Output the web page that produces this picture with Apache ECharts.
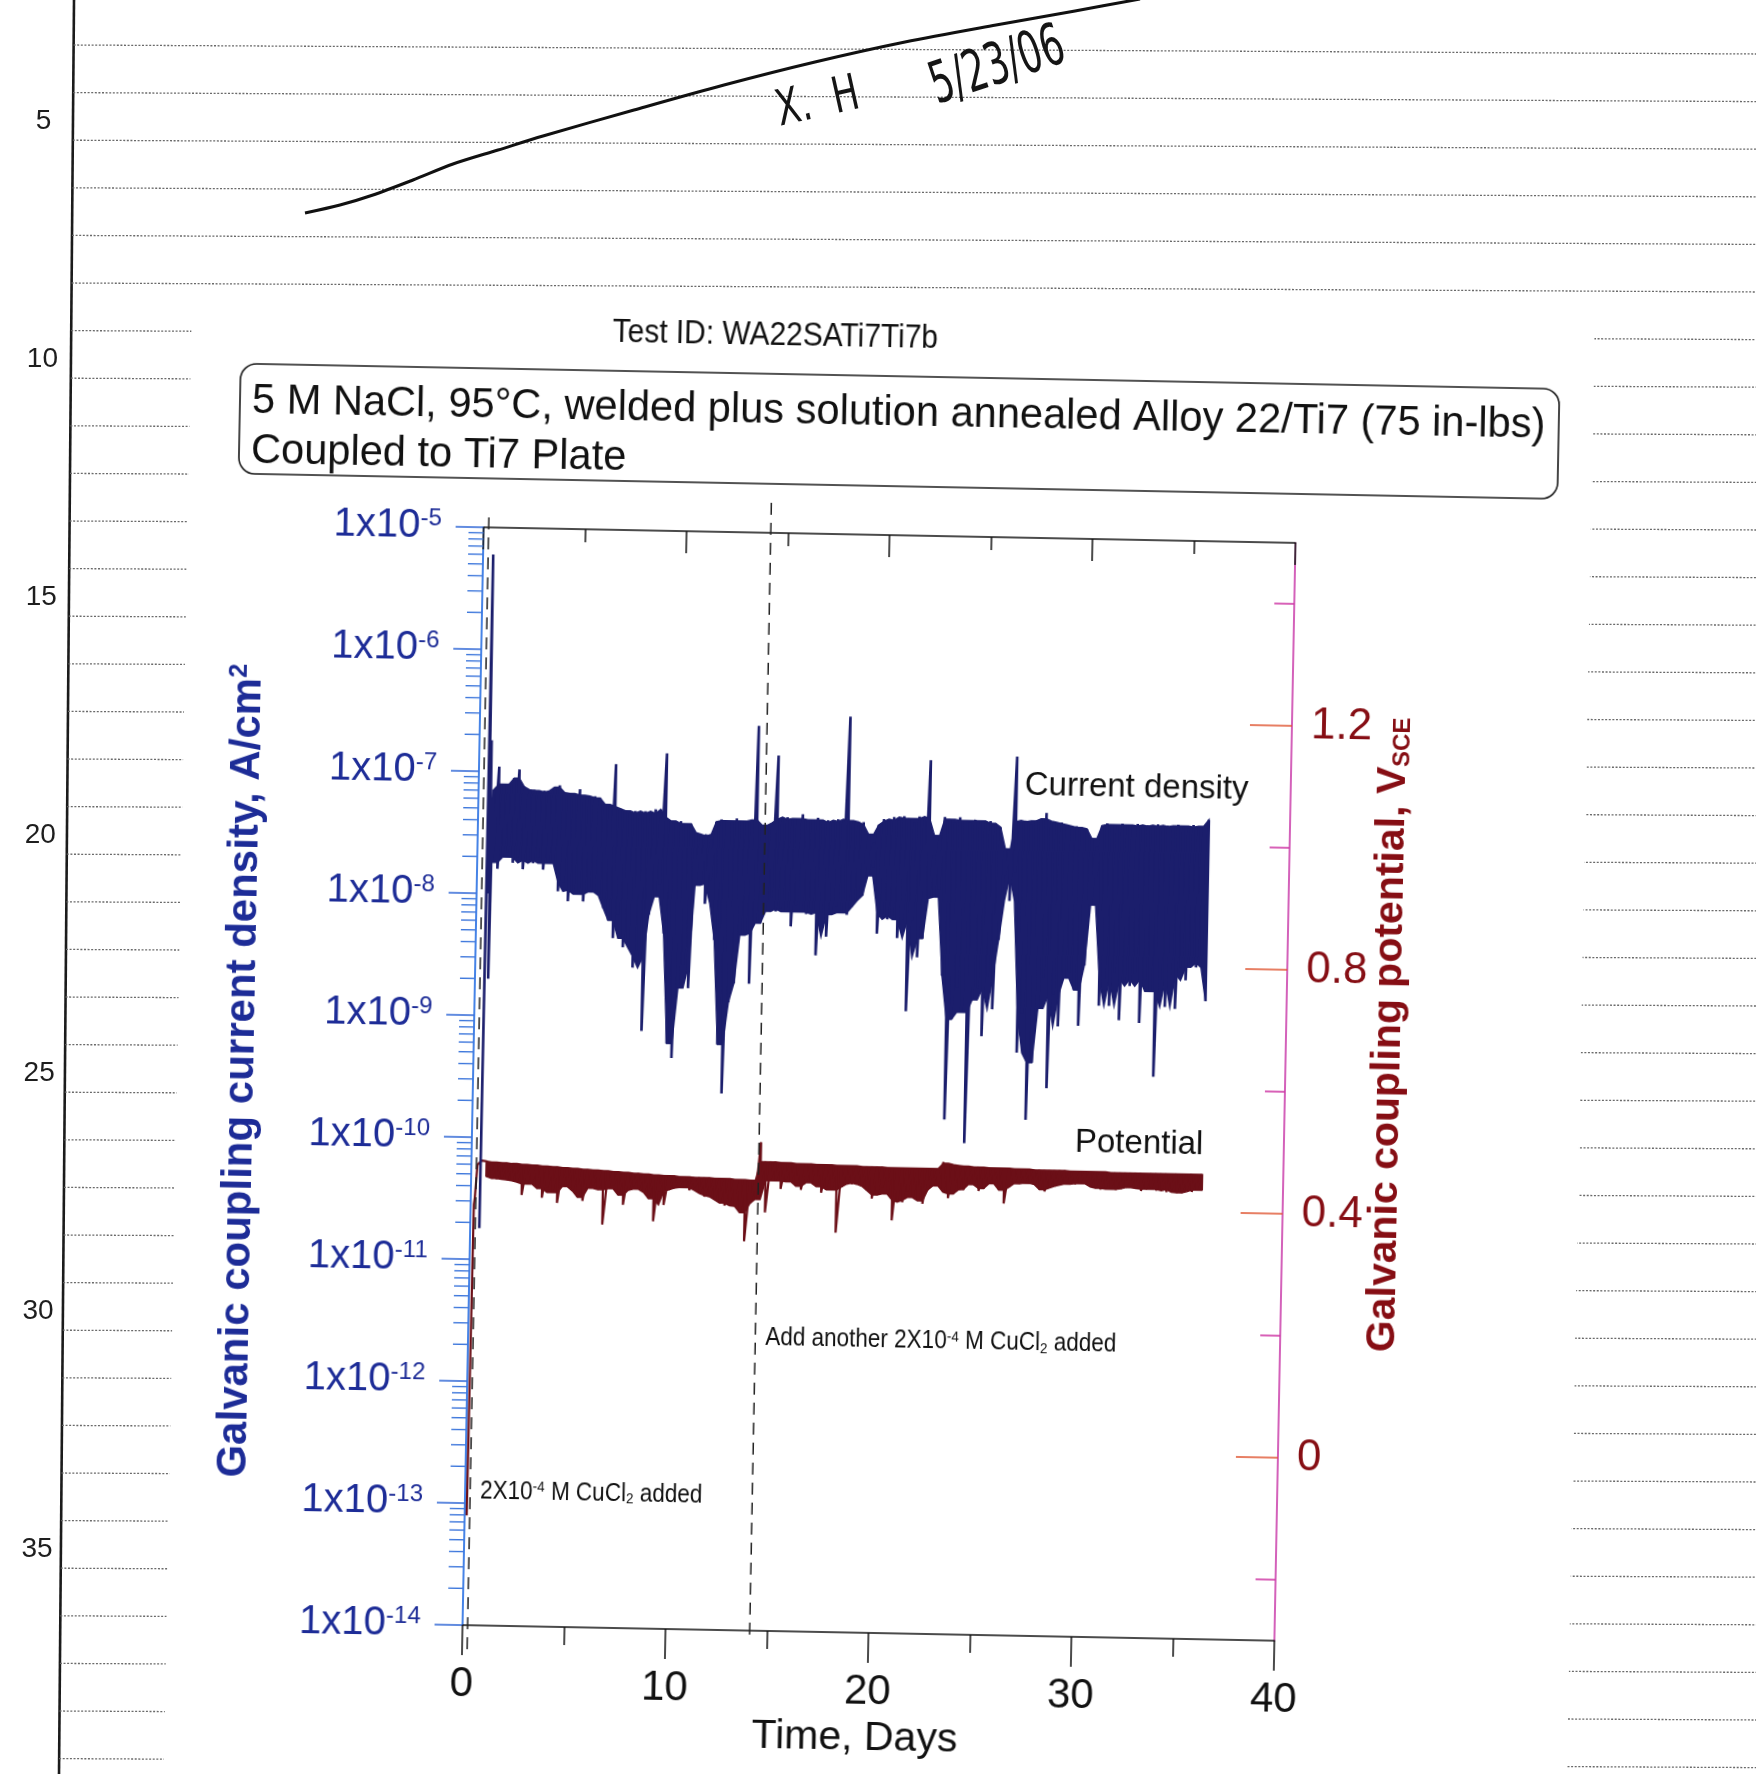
<!DOCTYPE html>
<html><head><meta charset="utf-8">
<script src="https://cdn.jsdelivr.net/npm/echarts@6.0.0/dist/echarts.min.js"></script>
<style>
html,body{margin:0;padding:0;background:#fff;overflow:hidden;}
#wrap{position:relative;width:1756px;height:1774px;overflow:hidden;background:#fff;}
#notebook{position:absolute;left:0;top:0;width:1756px;height:1774px;}
#chart{position:absolute;left:0;top:0;width:1756px;height:1900px;transform-origin:879px 1084px;transform:rotate(1.1deg);}
</style></head><body>
<div id="wrap"><div id="notebook"></div><div id="chart"></div></div>
<script>
// ---------------- DATA ----------------
// Sampling times (days) of the noisy bands
const days = [0.75,
 1,1.25,1.5,1.75, 2,2.25,2.5,2.75, 3,3.25,3.5,3.75, 4,4.25,4.5,4.75, 5,5.25,5.5,5.75,
 6,6.25,6.5,6.75, 7,7.25,7.5,7.75, 8,8.25,8.5,8.75, 9,9.25,9.5,9.75, 10,10.25,10.5,10.75,
 11,11.25,11.5,11.75, 12,12.25,12.5,12.75, 13,13.25,13.5,13.75, 14,14.25,14.5,14.75, 15,15.25,15.5,15.75,
 16,16.25,16.5,16.75, 17,17.25,17.5,17.75, 18,18.25,18.5,18.75, 19,19.25,19.5,19.75, 20,20.25,20.5,20.75,
 21,21.25,21.5,21.75, 22,22.25,22.5,22.75, 23,23.25,23.5,23.75, 24,24.25,24.5,24.75, 25,25.25,25.5,25.75,
 26,26.25,26.5,26.75, 27,27.25,27.5,27.75, 28,28.25,28.5,28.75, 29,29.25,29.5,29.75, 30,30.25,30.5,30.75,
 31,31.25,31.5,31.75, 32,32.25,32.5,32.75, 33,33.25,33.5,33.75, 34,34.25,34.5,34.75, 35,35.25,35.5,35.75,
 36];

// Galvanic coupling current density (A/cm2): upper and lower edge of the noisy trace
const currentHigh = [7.1e-8,
 1.1e-7,7.9e-8,7.9e-8,8.9e-8,  1.05e-7,7.6e-8,7.1e-8,7.2e-8,  6.9e-8,7.1e-8,6.8e-8,7.6e-8,  7.9e-8,6.9e-8,6.8e-8,6.6e-8,
 7.4e-8,6.6e-8,6.3e-8,6.5e-8,  6.3e-8,5.6e-8,5.4e-8,1.2e-7,  5.2e-8,5.0e-8,4.8e-8,5.0e-8,  4.7e-8,5.0e-8,4.8e-8,5.2e-8,
 4.5e-8,1.5e-7,4.2e-8,4.0e-8,  4.2e-8,4.0e-8,4.0e-8,3.4e-8,  3.2e-8,3.3e-8,3.0e-8,4.2e-8,  4.4e-8,4.3e-8,4.2e-8,4.5e-8,
 4.3e-8,4.2e-8,4.4e-8,2.6e-7,  4.0e-8,3.8e-8,4.2e-8,1.5e-7,  4.5e-8,4.7e-8,4.4e-8,4.6e-8,  5.0e-8,4.4e-8,4.5e-8,4.7e-8,
 4.2e-8,4.5e-8,4.3e-8,4.6e-8,  4.4e-8,3.2e-7,4.5e-8,4.2e-8,  4.4e-8,3.5e-8,3.0e-8,4.2e-8,  4.7e-8,4.5e-8,4.9e-8,4.6e-8,
 5.0e-8,4.8e-8,4.5e-8,5.0e-8,  4.8e-8,1.45e-7,2.4e-8,3.5e-8,  5.0e-8,4.8e-8,4.5e-8,5.0e-8,  4.7e-8,4.6e-8,4.8e-8,4.7e-8,
 4.5e-8,4.7e-8,4.5e-8,4.2e-8,  2.8e-8,2.8e-8,1.6e-7,4.7e-8,  4.8e-8,4.5e-8,4.8e-8,5.0e-8,  5.6e-8,4.8e-8,4.6e-8,4.7e-8,
 4.5e-8,4.2e-8,4.4e-8,4.3e-8,  4.2e-8,3.5e-8,3.0e-8,4.5e-8,  4.7e-8,4.6e-8,4.5e-8,4.7e-8,  4.6e-8,4.5e-8,4.7e-8,4.4e-8,
 4.6e-8,4.5e-8,4.7e-8,4.5e-8,  4.6e-8,4.4e-8,4.7e-8,4.6e-8,  4.4e-8,4.7e-8,4.5e-8,4.6e-8,
 5.2e-8];
const currentLow = [1.8e-8,
 1.6e-8,2.0e-8,2.2e-8,1.8e-8,  2.0e-8,1.6e-8,1.9e-8,1.8e-8,  2.0e-8,1.6e-8,1.8e-8,1.9e-8,  1.07e-8,1.26e-8,8.9e-9,1.1e-8,
 1.02e-8,8.9e-9,1.1e-8,1.07e-8,  1.0e-8,7.9e-9,6.3e-9,4.5e-9,  7.1e-9,3.8e-9,4.5e-9,2.6e-9,  3.2e-9,7.9e-10,7.1e-9,1.0e-8,
 1.26e-8,5.0e-9,6.3e-10,4.8e-10,  1.8e-9,2.8e-9,1.8e-9,1.26e-8,  1.3e-8,8.9e-9,1.4e-8,4.5e-9,  6.3e-10,2.5e-10,1.4e-9,2.0e-9,
 5.0e-9,5.2e-9,2.0e-9,6.3e-9,  6.3e-9,7.9e-9,1.0e-8,7.9e-9,  8.3e-9,7.9e-9,6.0e-9,8.9e-9,  7.9e-9,7.6e-9,8.3e-9,3.5e-9,
 7.9e-9,5.0e-9,7.6e-9,8.9e-9,  7.9e-9,7.6e-9,8.9e-9,1.0e-8,  1.1e-8,1.6e-8,1.9e-8,5.4e-9,  7.9e-9,7.1e-9,7.6e-9,5.0e-9,
 7.1e-9,1.26e-9,7.1e-9,3.5e-9,  5.0e-9,1.07e-8,1.1e-8,1.26e-8,  2.5e-9,1.66e-10,1.1e-9,2.0e-9,  1.26e-9,1.07e-10,1.6e-9,2.0e-9,
 8.1e-10,2.5e-9,1.35e-9,5.0e-9,  1.7e-8,1.05e-8,1.8e-8,6.0e-10,  1.26e-9,1.7e-10,5.0e-10,1.4e-9,  2.5e-9,3.1e-10,1.8e-9,1.0e-9,
 2.5e-9,2.8e-9,2.0e-9,1.02e-9,  3.2e-9,1.0e-8,1.7e-8,1.5e-9,  2.5e-9,1.5e-9,2.8e-9,1.15e-9,  2.5e-9,2.2e-9,2.8e-9,1.1e-9,
 2.5e-9,2.0e-9,4.0e-10,2.5e-9,  1.5e-9,2.8e-9,1.45e-9,3.2e-9,  2.5e-9,3.5e-9,3.2e-9,4.0e-9,
 1.7e-9];

// Galvanic coupling potential (V_SCE): upper and lower edge of the trace
const potentialHigh = [0.461,
 0.460,0.460,0.459,0.459,  0.458,0.458,0.457,0.457,  0.456,0.456,0.455,0.455,  0.454,0.454,0.453,0.453,
 0.452,0.452,0.451,0.451,  0.450,0.450,0.449,0.449,  0.448,0.448,0.447,0.447,  0.446,0.446,0.445,0.445,
 0.444,0.444,0.443,0.443,  0.443,0.442,0.442,0.442,  0.441,0.441,0.441,0.441,  0.440,0.440,0.440,0.440,
 0.439,0.439,0.439,0.438,  0.438,0.501,0.469,0.469,  0.469,0.468,0.468,0.468,  0.467,0.467,0.467,0.467,
 0.466,0.466,0.466,0.466,  0.465,0.465,0.465,0.465,  0.465,0.464,0.464,0.464,  0.464,0.464,0.463,0.463,
 0.463,0.463,0.463,0.463,  0.463,0.463,0.463,0.463,  0.463,0.474,0.472,0.470,  0.469,0.468,0.468,0.467,
 0.467,0.467,0.466,0.466,  0.466,0.466,0.466,0.465,  0.465,0.465,0.465,0.464,  0.464,0.464,0.464,0.464,
 0.464,0.464,0.463,0.463,  0.463,0.463,0.463,0.463,  0.463,0.463,0.462,0.462,  0.462,0.462,0.462,0.462,
 0.462,0.462,0.462,0.462,  0.462,0.462,0.462,0.462,  0.462,0.462,0.462,0.462,
 0.462];
const potentialLow = [0.436,
 0.433,0.432,0.434,0.431,  0.430,0.428,0.407,0.425,  0.428,0.418,0.403,0.420,  0.412,0.395,0.422,0.425,
 0.415,0.405,0.399,0.420,  0.425,0.418,0.361,0.420,  0.425,0.410,0.394,0.418,  0.424,0.420,0.415,0.405,
 0.368,0.418,0.395,0.420,  0.423,0.425,0.424,0.420,  0.425,0.415,0.410,0.412,  0.405,0.400,0.396,0.402,
 0.395,0.385,0.338,0.400,  0.407,0.438,0.386,0.440,  0.438,0.425,0.440,0.437,  0.430,0.424,0.438,0.436,
 0.430,0.420,0.430,0.425,  0.355,0.430,0.437,0.435,  0.439,0.432,0.425,0.412,  0.418,0.430,0.420,0.377,
 0.410,0.407,0.425,0.415,  0.410,0.405,0.428,0.435,  0.438,0.425,0.415,0.422,  0.430,0.429,0.440,0.438,
 0.428,0.432,0.440,0.442,  0.430,0.408,0.435,0.441,  0.441,0.443,0.442,0.440,  0.432,0.429,0.435,0.438,
 0.440,0.442,0.443,0.442,  0.444,0.443,0.438,0.436,  0.434,0.436,0.435,0.434,  0.436,0.438,0.440,0.437,
 0.433,0.436,0.438,0.434,  0.436,0.432,0.437,0.431,  0.431,0.436,0.433,0.437,
 0.436];

// Start-up transients (before the band)
const currentStartDays   = [0.45, 0.5, 0.55, 0.6, 0.65, 0.7];
const currentStartValues = [1.8e-11, 6e-6, 1e-8, 1.8e-7, 2e-9, 3e-8];
const potentialStartDays   = [0.1, 0.13, 0.16, 0.2, 0.3, 0.5];
const potentialStartValues = [-0.12, 0.15, 0.39, 0.40, 0.455, 0.462];

// Events (CuCl2 additions)
const eventDays = [0.25, 14.15];
const eventLabelLevels = [1.26e-13, 2.5e-12];
const eventLabels = ['{a|2X10}{p|-4}{a| M CuCl}{b|2}{a| added}',
                     '{a|Add another 2X10}{p|-4}{a| M CuCl}{b|2}{a| added}'];

// Axis ticks
const potentialMajorTicks = [0, 0.4, 0.8, 1.2];
const potentialMinorTicks = [-0.2, 0.2, 0.6, 1.0, 1.4];
const notebookNumbers = ['5', '10', '15', '20', '25', '30', '35'];

// ---------------- STYLE ----------------
const FONT = '"Liberation Sans", Arial, Helvetica, sans-serif';
const BLUE_TXT = '#1d2c97';
const RED_TXT = '#860e14';
const CUR_COLOR = '#1b1e6c';
const POT_COLOR = '#6b0f17';

// ---------------- NOTEBOOK BACKGROUND ----------------
const nb = echarts.init(document.getElementById('notebook'));
const nbG = [];
nbG.push({type:'line', silent:true, shape:{x1:74, y1:0, x2:59, y2:1774}, style:{stroke:'#1b1b1b', lineWidth:2.6}});
for (let k = 0; k < 37; k++) {
  const y = 45 + 47.6 * k;
  const xl = 74 - 15 * y / 1774;
  nbG.push({type:'line', silent:true, shape:{x1:xl, y1:y, x2:1756, y2:y + 9},
            style:{stroke:'#6a6a6a', lineWidth:1.3, lineDash:[2, 1.6]}});
}
notebookNumbers.forEach(function (s, i) {
  const y = 121 + 238 * i;
  nbG.push({type:'text', silent:true, x: 44 - 8 * y / 1774, y: y,
            style:{text:s, fontSize:28, fontFamily:FONT, fill:'#1e1e1e', align:'center', verticalAlign:'middle'}});
});
const handStroke = [[305,213],[340,205],[373,195],[413,180],[453,164],[498,150],[543,136],[634,110],
                    [724,85],[815,62],[905,42],[996,25],[1075,11],[1140,-1]];
nbG.push({type:'polyline', silent:true, shape:{points:handStroke, smooth:0.3},
          style:{stroke:'#111', lineWidth:3, fill:'none'}});
nbG.push({type:'text', silent:true, x:818, y:104, rotation:0.22, scaleX:0.7,
          style:{text:'X.  H', fontSize:50, fontFamily:'"DejaVu Sans", sans-serif', fill:'#151515', align:'center', verticalAlign:'middle'}});
nbG.push({type:'text', silent:true, x:998, y:68, rotation:0.32, scaleX:0.62,
          style:{text:'5/23/06', fontSize:58, fontFamily:'"DejaVu Sans", sans-serif', fill:'#151515', align:'center', verticalAlign:'middle'}});
nb.setOption({animation:false, graphic:nbG});

// ---------------- CHART ----------------
function bandPoints(times, hi, lo) {
  const pts = [];
  for (let i = 0; i < times.length; i++) { pts.push([times[i], hi[i]]); pts.push([times[i], lo[i]]); }
  return pts;
}
function med3(a, i) {
  const v = [a[Math.max(0, i - 1)], a[i], a[Math.min(a.length - 1, i + 1)]].sort(function (x, y) { return x - y; });
  return v[1];
}
const currentData = currentStartDays.map(function (d, i) { return [d, currentStartValues[i]]; })
  .concat(bandPoints(days, currentHigh, currentLow));
const potentialData = potentialStartDays.map(function (d, i) { return [d, potentialStartValues[i]]; })
  .concat(bandPoints(days, potentialHigh, potentialLow));

// solid core of each noisy band (the raw trace is drawn on top as a line)
function bandCore(name, yIdx, hi, lo, color, z) {
  return {type:'custom', name:name, xAxisIndex:0, yAxisIndex:yIdx, silent:true, z:z, clip:true,
    data: days.map(function (t, i) { return [t, med3(hi, i), med3(lo, i)]; }),
    renderItem: function (params, api) {
      if (params.dataIndex !== 0) return null;
      const pts = [];
      for (let i = 0; i < days.length; i++) pts.push(api.coord([days[i], med3(hi, i)]));
      for (let i = days.length - 1; i >= 0; i--) pts.push(api.coord([days[i], med3(lo, i)]));
      return {type:'polygon', shape:{points:pts}, style:{fill:color, stroke:color, lineWidth:1.5}};
    }};
}

const logMinor = [];
for (let e = -14; e < -5; e++) for (let m = 2; m <= 9; m++) logMinor.push([0, m * Math.pow(10, e)]);

const chart = echarts.init(document.getElementById('chart'));
const axisCommonOff = {splitLine:{show:false}, minorSplitLine:{show:false}};

chart.setOption({
  animation:false,
  backgroundColor:'transparent',
  grid:{left:473, top:535, width:812, height:1098, containLabel:false},
  xAxis:[
    Object.assign({type:'value', position:'bottom', min:0, max:40, interval:10,
      axisLine:{show:true, onZero:false, lineStyle:{color:'#111', width:1.6}},
      axisTick:{show:true, length:30, lineStyle:{color:'#111', width:1.5}},
      minorTick:{show:true, splitNumber:2, length:18, lineStyle:{color:'#111', width:1.5}},
      axisLabel:{margin:38, fontSize:42, color:'#111', fontFamily:FONT}}, axisCommonOff),
    Object.assign({type:'value', position:'top', min:0, max:40, interval:10,
      axisLine:{show:true, onZero:false, lineStyle:{color:'#111', width:1.6}},
      axisTick:{show:true, inside:true, length:22, lineStyle:{color:'#111', width:1.5}},
      minorTick:{show:true, splitNumber:2, length:13, lineStyle:{color:'#111', width:1.5}},
      axisLabel:{show:false}}, axisCommonOff)
  ],
  yAxis:[
    Object.assign({type:'log', logBase:10, min:1e-14, max:1e-5, splitNumber:9, position:'left',
      axisLine:{show:true, onZero:false, lineStyle:{color:'#4683e6', width:2}},
      axisTick:{show:true, length:28, lineStyle:{color:'#3a6fd8', width:1.6}},
      axisLabel:{margin:42, fontFamily:FONT,
        formatter:function (v) { return '{b|1x10}{s|' + Math.round(Math.log10(v)) + '}'; },
        rich:{b:{fontSize:40, color:BLUE_TXT, fontFamily:FONT},
              s:{fontSize:24, color:BLUE_TXT, fontFamily:FONT, verticalAlign:'top'}}}}, axisCommonOff),
    Object.assign({type:'value', position:'right', min:-0.3, max:1.5,
      axisLine:{show:true, onZero:false, lineStyle:{color:'#c93aa9', width:1.6}},
      axisTick:{show:true, inside:true, length:42, customValues:potentialMajorTicks, lineStyle:{color:'#df5530', width:1.6}},
      axisLabel:{margin:19, fontSize:44, color:RED_TXT, fontFamily:FONT, customValues:potentialMajorTicks,
        formatter:function (v) { return v === 0 ? '0' : v.toFixed(1); }}}, axisCommonOff),
    Object.assign({type:'value', position:'right', min:-0.3, max:1.5,
      axisLine:{show:false, onZero:false},
      axisTick:{show:true, inside:true, length:20, customValues:potentialMinorTicks, lineStyle:{color:'#cf3aa6', width:1.6}},
      axisLabel:{show:false}}, axisCommonOff)
  ],
  series:[
    bandCore('Potential core', 1, potentialHigh, potentialLow, POT_COLOR, 2),
    {type:'line', name:'Potential', xAxisIndex:0, yAxisIndex:1, data:potentialData, showSymbol:false, symbol:'none',
     lineStyle:{color:POT_COLOR, width:2.2}, z:3, silent:true},
    bandCore('Current density core', 0, currentHigh, currentLow, CUR_COLOR, 3),
    {type:'line', name:'Current density', xAxisIndex:0, yAxisIndex:0, data:currentData, showSymbol:false, symbol:'none',
     lineStyle:{color:CUR_COLOR, width:2.6}, z:4, silent:true},
    {type:'custom', name:'log minor ticks', xAxisIndex:0, yAxisIndex:0, data:logMinor, clip:false, silent:true, z:5,
     renderItem:function (params, api) {
       const p = api.coord([0, api.value(1)]);
       return {type:'line', shape:{x1:p[0] - 15, y1:p[1], x2:p[0], y2:p[1]}, style:{stroke:'#3f78dc', lineWidth:1.4}};
     }},
    {type:'custom', name:'events', xAxisIndex:0, yAxisIndex:0, clip:false, silent:true, z:6,
     data:eventDays.map(function (d, i) { return [d, eventLabelLevels[i]]; }),
     renderItem:function (params, api) {
       const t = api.value(0);
       const top = api.coord([t, 1e-5]);
       const bot = api.coord([t, 1e-14]);
       const lab = api.coord([t, api.value(1)]);
       const ext = params.dataIndex === 0 ? [10, 26] : [30, 12];
       return {type:'group', children:[
         {type:'line', shape:{x1:top[0], y1:top[1] - ext[0], x2:bot[0], y2:bot[1] + ext[1]},
          style:{stroke:'#222', lineWidth:1.5, lineDash:[12, 8]}},
         {type:'text', x:lab[0] + 10, y:lab[1], scaleX:0.9,
          style:{text:eventLabels[params.dataIndex], align:'left', verticalAlign:'middle', fill:'#111',
            rich:{a:{fontSize:25, fontFamily:FONT, fill:'#111', color:'#111'},
                  p:{fontSize:15, fontFamily:FONT, fill:'#111', color:'#111', verticalAlign:'top'},
                  b:{fontSize:15, fontFamily:FONT, fill:'#111', color:'#111', verticalAlign:'bottom'}}}}
       ]};
     }}
  ],
  graphic:[
    {type:'rect', z:-10, silent:true, shape:{x:177, y:305, width:1403, height:1700}, style:{fill:'#ffffff'}},
    {type:'text', silent:true, x:761, y:338, scaleX:0.88,
     style:{text:'Test ID: WA22SATi7Ti7b', fontSize:34, fontFamily:FONT, fill:'#111', align:'center', verticalAlign:'middle'}},
    {type:'rect', silent:true, shape:{x:227, y:376, width:1319, height:110, r:16},
     style:{fill:'none', stroke:'#1a1a1a', lineWidth:1.6}},
    {type:'text', silent:true, x:239, y:414,
     style:{text:'5 M NaCl, 95°C, welded plus solution annealed Alloy 22/Ti7 (75 in-lbs)', fontSize:41.6, fontFamily:FONT,
            fill:'#111', align:'left', verticalAlign:'middle'}},
    {type:'text', silent:true, x:239, y:464,
     style:{text:'Coupled to Ti7 Plate', fontSize:41.6, fontFamily:FONT, fill:'#111', align:'left', verticalAlign:'middle'}},
    {type:'text', silent:true, x:241, y:1083, rotation:Math.PI / 2,
     style:{text:'{a|Galvanic coupling current density, A/cm}{s|2}', align:'center', verticalAlign:'middle',
            rich:{a:{fontSize:42, fontWeight:'bold', fontFamily:FONT, fill:BLUE_TXT, color:BLUE_TXT},
                  s:{fontSize:25, fontWeight:'bold', fontFamily:FONT, fill:BLUE_TXT, color:BLUE_TXT, verticalAlign:'top'}}}},
    {type:'text', silent:true, x:1388, y:1025, rotation:Math.PI / 2,
     style:{text:'{a|Galvanic coupling potential, V}{s|SCE}', align:'center', verticalAlign:'middle',
            rich:{a:{fontSize:41, fontWeight:'bold', fontFamily:FONT, fill:RED_TXT, color:RED_TXT},
                  s:{fontSize:24, fontWeight:'bold', fontFamily:FONT, fill:RED_TXT, color:RED_TXT, verticalAlign:'bottom'}}}},
    {type:'text', silent:true, x:867, y:1739,
     style:{text:'Time, Days', fontSize:41, fontFamily:FONT, fill:'#111', align:'center', verticalAlign:'middle'}},
    {type:'text', silent:true, x:1019, y:783, z:10,
     style:{text:'Current density', fontSize:33, fontFamily:FONT, fill:'#111', align:'left', verticalAlign:'middle'}},
    {type:'text', silent:true, x:1076, y:1139, z:10,
     style:{text:'Potential', fontSize:33, fontFamily:FONT, fill:'#111', align:'left', verticalAlign:'middle'}}
  ]
});
</script>
</body></html>
